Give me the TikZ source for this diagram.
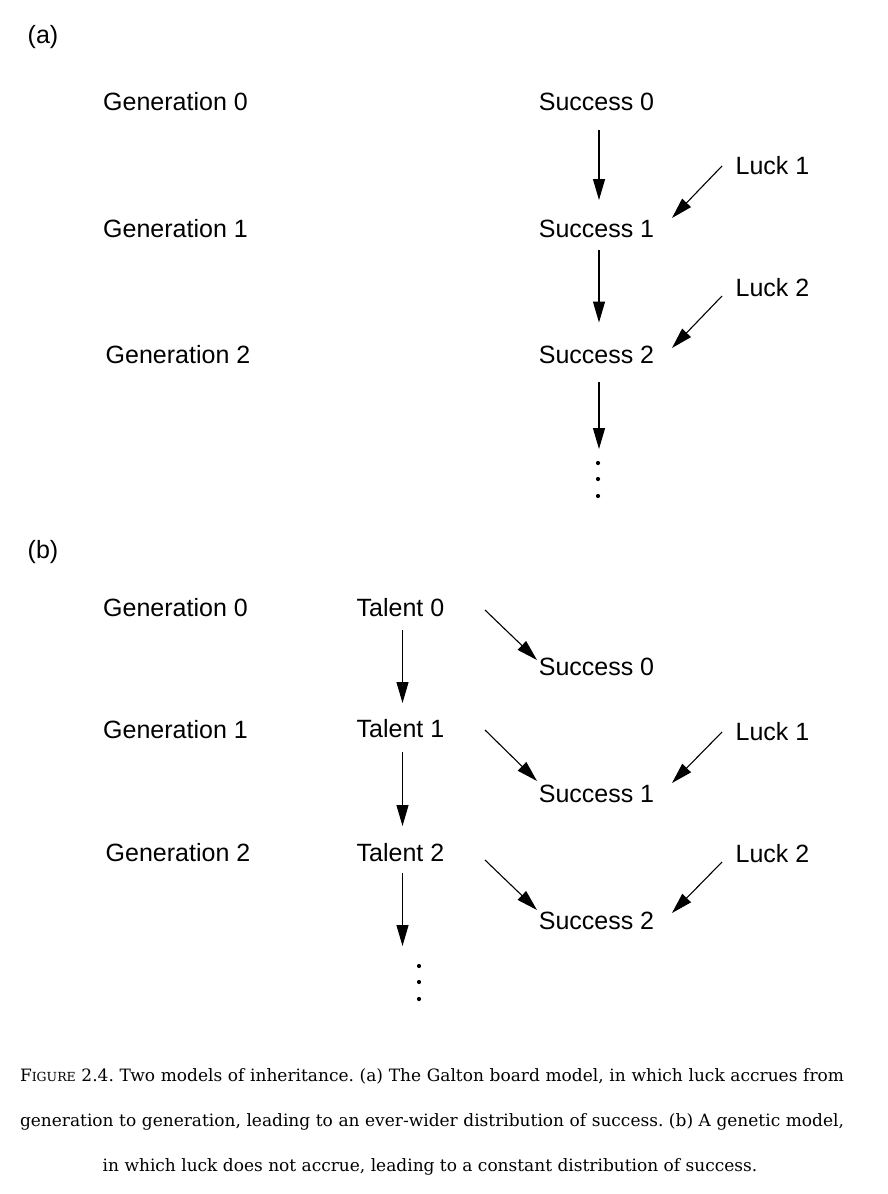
\documentclass[tikz,border=0pt]{standalone}
\usepackage{fontspec}
\setmainfont{Liberation Sans}
\newfontfamily\capfont{DejaVu Serif}
\usetikzlibrary{arrows.meta}
\begin{document}
\frenchspacing
\begin{tikzpicture}[x=1pt,y=-1pt,
  lbl/.style={anchor=base,inner sep=0pt,font=\fontsize{25}{30}\selectfont},
  arr/.style={line width=1.1pt,-{Triangle[length=21pt,width=12pt]}},
  dotn/.style={circle,fill=black,inner sep=0pt,minimum size=4.2pt},
  captxt/.style={anchor=base,inner sep=0pt,font=\capfont\fontsize{17}{20}\selectfont}]
\useasboundingbox (0,0) rectangle (888,1194);
% ---------- (a) ----------
\node[lbl] (la) at (43,43) {(a)};
\node[lbl] (ga0) at (175.5,110) {Generation 0};
\node[lbl] (ga1) at (175.5,237) {Generation 1};
\node[lbl] (ga2) at (178,363) {Generation 2};
\node[lbl] (sa0) at (596.5,110) {Success 0};
\node[lbl] (sa1) at (596.5,237) {Success 1};
\node[lbl] (sa2) at (596.5,363) {Success 2};
\node[lbl] (lka1) at (772.5,174) {Luck 1};
\node[lbl] (lka2) at (772.5,296) {Luck 2};
\node[dotn] (da1) at (598,463) {};
\node[dotn] (da2) at (598,479) {};
\node[dotn] (da3) at (598,496) {};
\draw[arr] ([shift={(2.5,20)}]sa0.base) -- ([shift={(2.5,-37)}]sa1.base);
\draw[arr] ([shift={(2.5,13)}]sa1.base) -- ([shift={(2.5,-40.5)}]sa2.base);
\draw[arr] ([shift={(2.5,19)}]sa2.base) -- ([shift={(1,-14)}]da1.center);
\draw[arr] ([shift={(-50.5,-8)}]lka1.base) -- ([shift={(75.5,-19)}]sa1.base);
\draw[arr] ([shift={(-50.5,0)}]lka2.base) -- ([shift={(75.5,-15)}]sa2.base);
% ---------- (b) ----------
\node[lbl] (lb) at (43,558) {(b)};
\node[lbl] (gb0) at (175.5,616) {Generation 0};
\node[lbl] (gb1) at (175.5,738) {Generation 1};
\node[lbl] (gb2) at (178,861) {Generation 2};
\node[lbl] (tb0) at (400.5,616) {Talent 0};
\node[lbl] (tb1) at (400.5,737) {Talent 1};
\node[lbl] (tb2) at (400.5,861) {Talent 2};
\node[lbl] (sb0) at (596.5,675) {Success 0};
\node[lbl] (sb1) at (596.5,802) {Success 1};
\node[lbl] (sb2) at (596.5,929) {Success 2};
\node[lbl] (lkb1) at (772.5,740) {Luck 1};
\node[lbl] (lkb2) at (772.5,862) {Luck 2};
\node[dotn] (db1) at (419,966) {};
\node[dotn] (db2) at (419,982) {};
\node[dotn] (db3) at (419,999) {};
\draw[arr] ([shift={(2,14)}]tb0.base) -- ([shift={(2,-34)}]tb1.base);
\draw[arr] ([shift={(2,15)}]tb1.base) -- ([shift={(2,-35)}]tb2.base);
\draw[arr] ([shift={(2,12)}]tb2.base) -- ([shift={(-16.5,-20)}]db1.center);
\draw[arr] ([shift={(84.5,-6)}]tb0.base) -- ([shift={(-59.5,-15)}]sb0.base);
\draw[arr] ([shift={(84.5,-7)}]tb1.base) -- ([shift={(-59.5,-21)}]sb1.base);
\draw[arr] ([shift={(84.5,-1)}]tb2.base) -- ([shift={(-59.5,-19)}]sb2.base);
\draw[arr] ([shift={(-50.5,-8)}]lkb1.base) -- ([shift={(75.5,-19)}]sb1.base);
\draw[arr] ([shift={(-50.5,0)}]lkb2.base) -- ([shift={(75.5,-16)}]sb2.base);
% ---------- caption ----------
\node[captxt] (c1) at (432,1081) {\makebox[824pt][s]{F{\fontsize{12.5}{14}\selectfont IGURE} 2.4. Two models of inheritance. (a) The Galton board model, in which luck accrues from}};
\node[captxt] (c2) at (432,1126) {\makebox[824pt][s]{generation to generation, leading to an ever-wider distribution of success. (b) A genetic model,}};
\node[captxt] (c3) at (430,1171) {in which luck does not accrue, leading to a constant distribution of success.};
\end{tikzpicture}
\end{document}
